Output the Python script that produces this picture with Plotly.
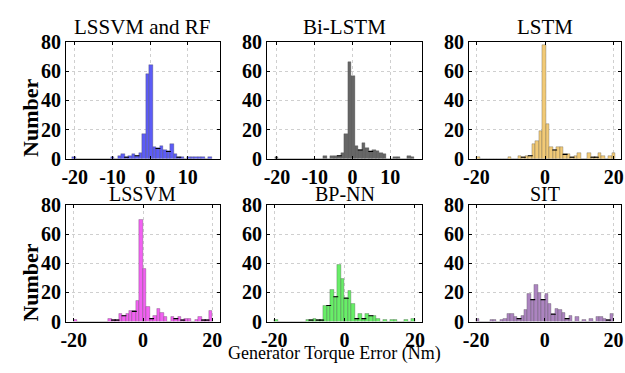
import plotly.graph_objects as go
from plotly.subplots import make_subplots

W, H = 625, 373

titles = ["LSSVM and RF", "Bi-LSTM", "LSTM", "LSSVM", "BP-NN", "SIT"]

# histogram bin starts and widths (Nm)
bin_start = [-20.6, -20.6, -20.0, -20.0, -20.0, -20.0]
bin_width = [0.925, 0.925, 1.0125, 1.0, 1.0, 1.0]

counts_lssvm_rf = [1, 0, 0, 0, 0, 0, 0, 0, 0, 0,
                   0, 1, 0, 2, 3, 1, 2, 3, 2, 4,
                   17, 58, 64, 8, 7, 9, 6, 5, 10, 3,
                   1, 1, 0, 1, 1, 1, 1, 1, 0, 1]
counts_bilstm = [1, 0, 0, 0, 0, 0, 0, 0, 0, 0,
                 0, 0, 0, 0, 2, 0, 2, 2, 2, 4,
                 17, 66, 57, 9, 6, 11, 7, 5, 6, 5,
                 4, 3, 0, 0, 1, 1, 0, 0, 2, 1]
counts_lstm = [1, 0, 0, 0, 0, 0, 0, 0, 0, 1,
               0, 0, 2, 1, 2, 2, 10, 12, 19, 78,
               24, 8, 6, 8, 8, 3, 3, 1, 2, 4,
               0, 0, 4, 1, 1, 4, 2, 0, 2, 4]
counts_lssvm = [1, 0, 0, 0, 0, 0, 0, 0, 0, 0,
                2, 1, 1, 5, 4, 5, 7, 7, 14, 70,
                36, 10, 2, 4, 9, 6, 3, 0, 3, 2,
                3, 1, 2, 2, 0, 1, 3, 1, 1, 7]
counts_bpnn = [1, 0, 0, 0, 0, 0, 0, 0, 0, 1,
               1, 2, 1, 1, 11, 11, 22, 17, 39, 29,
               16, 21, 12, 2, 5, 2, 5, 4, 4, 2,
               0, 1, 0, 1, 1, 0, 0, 1, 0, 2]
counts_sit = [2, 0, 0, 0, 1, 1, 0, 1, 2, 5,
              5, 3, 2, 4, 8, 19, 15, 25, 20, 15,
              19, 12, 5, 9, 8, 6, 2, 4, 0, 3,
              0, 1, 0, 2, 0, 3, 3, 2, 1, 5]

all_counts = [counts_lssvm_rf, counts_bilstm, counts_lstm,
              counts_lssvm, counts_bpnn, counts_sit]

colors = ["rgb(92,92,246)", "rgb(102,102,102)", "rgb(242,202,118)",
          "rgb(242,96,242)", "rgb(104,238,104)", "rgb(172,132,192)"]

x_ranges = [[-22.3, 18.5], [-22.6, 18.4], [-22.1, 22.1],
            [-22.2, 22.2], [-22.0, 22.0], [-22.0, 22.2]]
x_tickvals = [[-20, -10, 0, 10], [-20, -10, 0, 10], [-20, 0, 20],
              [-20, 0, 20], [-20, 0, 20], [-20, 0, 20]]
x_ticktext = [["-20", "-10", "0", "10"], ["-20", "-10", "0", "10"], ["-20", "0", "20"],
              ["-20", "0", "20"], ["-20", "0", "20"], ["-20", "0", "20"]]
y_tickvals = [0, 20, 40, 60, 80]
y_ticktext = ["0", "20", "40", "60", "80"]

xlabel = "Generator Torque Error (Nm)"
ylabel = "Number"

FONT = "Liberation Serif"

# axis boxes in pixels (left, right, top, bottom)
col_px = [(61, 217), (265, 422), (470, 624)]
row_px = [(33, 157), (206, 330)]
title_offset = [16, 12]
title_size = [21, 20]

fig = make_subplots(rows=2, cols=3)

for k in range(6):
    r, c = k // 3 + 1, k % 3 + 1
    cnt = all_counts[k]
    x0 = bin_start[k] + bin_width[k] / 2
    fig.add_trace(go.Bar(
        x0=x0, dx=bin_width[k], y=cnt, width=bin_width[k],
        marker=dict(color=colors[k], line=dict(color="rgba(70,70,70,0.5)", width=0.6)),
        showlegend=False), row=r, col=c)
    # dark top edges where a bar is a local minimum (rendering look of the original)
    mx, my = [], []
    for i in range(len(cnt)):
        left = cnt[i - 1] if i > 0 else 0
        right = cnt[i + 1] if i < len(cnt) - 1 else 0
        if cnt[i] > 0 and cnt[i] <= left and cnt[i] <= right and (cnt[i] < left or cnt[i] < right):
            mx.append(x0 + i * bin_width[k])
            my.append(cnt[i])
    fig.add_trace(go.Scatter(
        x=mx, y=my, mode="markers",
        marker=dict(symbol="line-ew", size=3.5, line=dict(color="black", width=1.1)),
        showlegend=False, hoverinfo="skip"), row=r, col=c)

    (xl, xr), (yt, yb) = col_px[c - 1], row_px[r - 1]
    axis_common = dict(showline=True, linecolor="black", linewidth=1.3, mirror="ticks",
                       ticks="inside", ticklen=3, tickcolor="black", tickwidth=1,
                       showgrid=True, gridcolor="#cfcfcf", griddash="dot", gridwidth=0.8,
                       zeroline=False,
                       tickfont=dict(family=FONT, size=20, color="black", weight="bold"))
    fig.update_xaxes(range=x_ranges[k], tickvals=x_tickvals[k], ticktext=x_ticktext[k],
                     domain=[xl / W, xr / W], row=r, col=c, **axis_common)
    fig.update_yaxes(range=[0, 80], tickvals=y_tickvals, ticktext=y_ticktext,
                     domain=[1 - yb / H, 1 - yt / H], row=r, col=c, **axis_common)

    # subplot title
    fig.add_annotation(text=titles[k], x=(xl + xr) / 2 / W, y=1 - (yt - title_offset[r - 1]) / H,
                       xref="paper", yref="paper", showarrow=False,
                       xanchor="center", yanchor="middle",
                       font=dict(family=FONT, size=title_size[r - 1], color="black"))

# y labels
for ycen in (114, 289):
    fig.add_annotation(text=ylabel, x=25 / W, y=1 - ycen / H, xref="paper", yref="paper",
                       showarrow=False, textangle=-90, xanchor="center", yanchor="middle",
                       font=dict(family=FONT, size=22, color="black", weight="bold"))

fig.add_annotation(text=xlabel, x=333 / W, y=1 - 364 / H, xref="paper", yref="paper",
                   showarrow=False, xanchor="center", yanchor="middle",
                   font=dict(family=FONT, size=18, color="black"))

fig.update_layout(width=W, height=H, margin=dict(l=0, r=0, t=0, b=0),
                  plot_bgcolor="white", paper_bgcolor="white", bargap=0,
                  font=dict(family=FONT))

fig.write_html("out.html")
